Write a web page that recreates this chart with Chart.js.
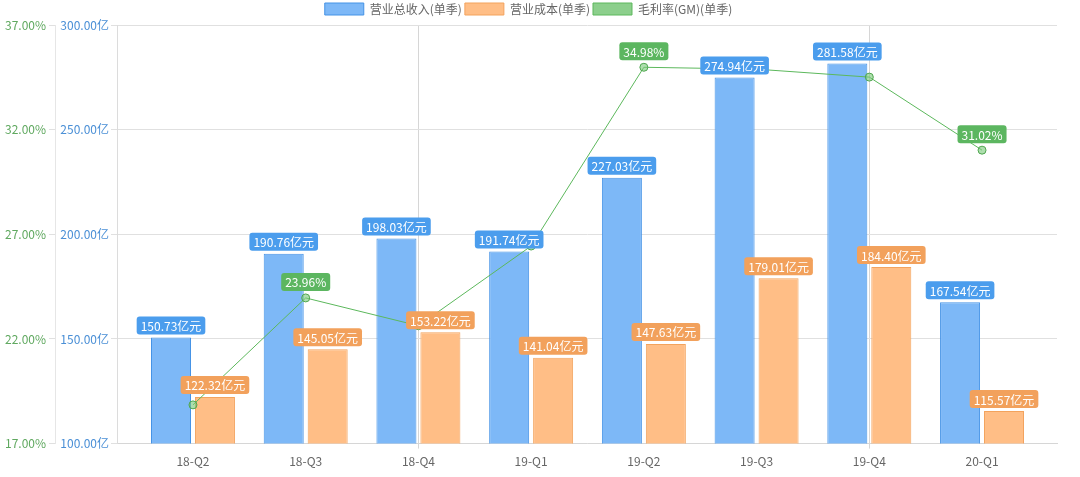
<!DOCTYPE html>
<html>
<head>
<meta charset="utf-8">
<script src="https://cdn.jsdelivr.net/npm/chart.js@4/dist/chart.umd.min.js"></script>
<style>
  html, body { margin: 0; padding: 0; background: #fff; }
  #wrap { width: 1080px; height: 477px; position: relative; }
</style>
</head>
<body>
<div id="wrap"><canvas id="chart"></canvas></div>
<script>
// quarters + series (亿元 / %)
const quarters = ['18-Q2', '18-Q3', '18-Q4', '19-Q1', '19-Q2', '19-Q3', '19-Q4', '20-Q1'];
const revenue = [150.73, 190.76, 198.03, 191.74, 227.03, 274.94, 281.58, 167.54];
const cost = [122.32, 145.05, 153.22, 141.04, 147.63, 179.01, 184.40, 115.57];
const grossMargin = [18.85, 23.96, 22.63, 26.44, 34.98, 34.89, 34.51, 31.02];
const gmLabelIdx = [1, 4, 7]; // only these show a tag in the picture

const FONT = '"Noto Sans CJK SC", "Noto Sans", sans-serif';

function roundRect(ctx, x, y, w, h, r) {
  ctx.beginPath();
  ctx.moveTo(x + r, y);
  ctx.lineTo(x + w - r, y);
  ctx.quadraticCurveTo(x + w, y, x + w, y + r);
  ctx.lineTo(x + w, y + h - r);
  ctx.quadraticCurveTo(x + w, y + h, x + w - r, y + h);
  ctx.lineTo(x + r, y + h);
  ctx.quadraticCurveTo(x, y + h, x, y + h - r);
  ctx.lineTo(x, y + r);
  ctx.quadraticCurveTo(x, y, x + r, y);
  ctx.closePath();
}

function drawTag(ctx, text, cx, bottom, bg) {
  ctx.font = '12px ' + FONT;
  const w = ctx.measureText(text).width + 8;
  const h = 18;
  roundRect(ctx, cx - w / 2, bottom - h, w, h, 3);
  ctx.fillStyle = bg;
  ctx.fill();
  ctx.fillStyle = '#fff';
  ctx.textAlign = 'center';
  ctx.textBaseline = 'middle';
  ctx.fillText(text, cx, bottom - h / 2 + 1);
}

const tagPlugin = {
  id: 'tags',
  afterDatasetsDraw(chart) {
    const ctx = chart.ctx;
    ctx.save();
    const tagColors = ['#4b9ded', '#f2a15c'];
    [0, 1].forEach(di => {
      chart.getDatasetMeta(di).data.forEach((bar, i) => {
        const v = chart.data.datasets[di].data[i].y;
        drawTag(ctx, v.toFixed(2) + '亿元', bar.x, bar.y - 3, tagColors[di]);
      });
    });
    const pts = chart.getDatasetMeta(2).data;
    gmLabelIdx.forEach(i => {
      drawTag(ctx, grossMargin[i].toFixed(2) + '%', pts[i].x, pts[i].y - 7, '#5cb660');
    });
    ctx.restore();
  }
};

const ctx = document.getElementById('chart').getContext('2d');
new Chart(ctx, {
  data: {
    datasets: [
      {
        type: 'bar',
        label: '营业总收入(单季)',
        data: revenue.map((v, i) => ({ x: i, y: v })),
        backgroundColor: '#7db8f7',
        borderColor: '#4593e6',
        borderWidth: 1,
        categoryPercentage: 0.78,
        barPercentage: 0.91,
        yAxisID: 'y',
        order: 2
      },
      {
        type: 'bar',
        label: '营业成本(单季)',
        data: cost.map((v, i) => ({ x: i, y: v })),
        backgroundColor: '#ffbe86',
        borderColor: '#f3a35d',
        borderWidth: 1,
        categoryPercentage: 0.78,
        barPercentage: 0.91,
        yAxisID: 'y',
        order: 2
      },
      {
        type: 'line',
        label: '毛利率(GM)(单季)',
        data: grossMargin.map((v, i) => ({ x: i, y: v })),
        borderColor: '#5cb85c',
        backgroundColor: '#8fd08f',
        borderWidth: 1,
        pointRadius: 4,
        pointBackgroundColor: 'rgba(120,200,120,0.6)',
        pointBorderColor: '#4fa64f',
        pointBorderWidth: 1,
        tension: 0,
        yAxisID: 'yp',
        order: 1
      }
    ]
  },
  options: {
    responsive: true,
    maintainAspectRatio: false,
    animation: false,
    layout: { padding: { top: 0, right: 23, bottom: 2, left: 0 } },
    plugins: {
      legend: {
        position: 'top',
        labels: {
          boxWidth: 39,
          boxHeight: 12,
          padding: 3,
          color: '#666',
          font: { family: FONT, size: 12 },
          generateLabels(chart) {
            const fills = ['#7db8f7', '#ffbe86', '#8ccf8c'];
            const lines = ['#4593e6', '#f3a35d', '#5cb85c'];
            return chart.data.datasets.map((d, i) => ({
              text: d.label,
              fillStyle: fills[i],
              strokeStyle: lines[i],
              lineWidth: 1,
              datasetIndex: i,
              fontColor: '#666'
            }));
          }
        }
      },
      tooltip: { enabled: false }
    },
    scales: {
      x: {
        type: 'linear',
        offset: false,
        min: -0.674,
        max: 7.665,
        afterBuildTicks: s => { s.ticks = quarters.map((_, i) => ({ value: i })); },
        ticks: {
          color: '#666',
          font: { family: FONT, size: 12 },
          padding: 6,
          callback: v => quarters[v] || ''
        },
        grid: {
          offset: false,
          color: c => (c.tick && (c.tick.value === 2 || c.tick.value === 6)) ? '#d6d6d6' : 'rgba(0,0,0,0)',
          tickLength: 5
        },
        border: { color: '#d6d6d6' }
      },
      y: {
        position: 'left',
        weight: 0,
        min: 100,
        max: 300,
        afterBuildTicks: s => { s.ticks = [100, 150, 200, 250, 300].map(v => ({ value: v })); },
        afterFit: s => { s.width = 62; },
        ticks: {
          color: '#4a8fd6',
          font: { family: FONT, size: 12 },
          padding: 2,
          callback: v => v.toFixed(2) + '亿'
        },
        grid: { color: '#e0e0e0', tickLength: 6 },
        border: { color: '#dcdcdc' }
      },
      yp: {
        position: 'left',
        weight: 1,
        min: 17,
        max: 37,
        afterBuildTicks: s => { s.ticks = [17, 22, 27, 32, 37].map(v => ({ value: v })); },
        afterFit: s => { s.width = 55; },
        ticks: {
          color: '#5fa85f',
          font: { family: FONT, size: 12 },
          padding: 3,
          callback: v => v.toFixed(2) + '%'
        },
        grid: { drawOnChartArea: false, color: '#e0e0e0', tickLength: 6 },
        border: { color: '#e6e6e6' }
      }
    }
  },
  plugins: [tagPlugin]
});
</script>
</body>
</html>
